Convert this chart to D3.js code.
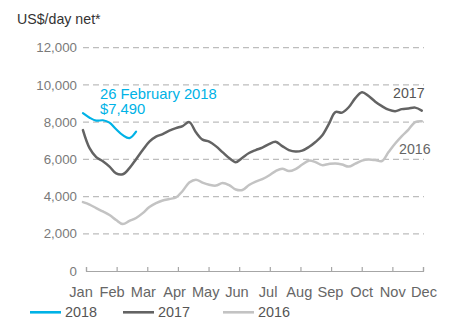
<!DOCTYPE html>
<html>
<head>
<meta charset="utf-8">
<script src="https://cdn.jsdelivr.net/npm/d3@7"></script>
<style>
  body { margin: 0; background: #fff; }
  svg { display: block; font-family: "Liberation Sans", Arial, sans-serif; }
</style>
</head>
<body>
<svg id="chart" width="451" height="321"></svg>
<script>
// tick labels
const months = ["Jan", "Feb", "Mar", "Apr", "May", "Jun", "Jul", "Aug", "Sep", "Oct", "Nov", "Dec"];
const yTicks = [0, 2000, 4000, 6000, 8000, 10000, 12000];

// weekly earnings, US$/day net (week 0 = first week of Jan)
const values2018 = [8480, 8240, 8080, 8100, 7970, 7620, 7300, 7140, 7490];
const values2017 = [7570, 6600, 6120, 5900, 5610, 5240, 5200, 5530, 6010, 6500,
  6950, 7220, 7360, 7540, 7680, 7790, 8000, 7460, 7060, 6950,
  6710, 6390, 6070, 5850, 6090, 6340, 6500, 6630, 6820, 6940,
  6710, 6500, 6420, 6470, 6660, 6930, 7280, 7890, 8540, 8510,
  8800, 9290, 9610, 9400, 9100, 8860, 8670, 8590, 8700, 8730,
  8780, 8620];
const values2016 = [3700, 3570, 3380, 3200, 3010, 2740, 2520, 2690, 2850, 3110,
  3440, 3650, 3790, 3870, 3950, 4300, 4750, 4910, 4750, 4640,
  4590, 4730, 4620, 4380, 4350, 4620, 4800, 4940, 5130, 5370,
  5500, 5370, 5480, 5720, 5930, 5850, 5690, 5750, 5780, 5720,
  5610, 5770, 5930, 5990, 5960, 5910, 6390, 6850, 7250, 7600,
  8000, 8050];

const series = [
  { name: "2016", values: values2016, color: "#c3c3c3" },
  { name: "2017", values: values2017, color: "#636363" },
  { name: "2018", values: values2018, color: "#00b2e6" }
];

const svg = d3.select("#chart");

// month position scale (tick at each month)
const x = d3.scaleLinear().domain([0, 11]).range([86, 423]);
const labelX = x.copy().range([81, 424]);
// week index -> month position
const weekPos = d3.scaleLinear().domain([0, 51]).range([-0.1, 10.96]);

const y = d3.scaleLinear().domain([0, 12000]).range([271, 47.7]);

// title
svg.append("text")
  .attr("x", 17).attr("y", 24)
  .attr("font-size", 14.2)
  .attr("fill", "#333")
  .text("US$/day net*");

// gridlines
svg.append("g")
  .selectAll("line")
  .data(yTicks.filter(d => d > 0))
  .join("line")
  .attr("x1", 83).attr("x2", 424)
  .attr("y1", d => y(d)).attr("y2", d => y(d))
  .attr("stroke", "#bdbdbd")
  .attr("stroke-width", 1.2)
  .attr("stroke-dasharray", "6,4");

// y labels
svg.append("g")
  .selectAll("text")
  .data(yTicks)
  .join("text")
  .attr("x", 77)
  .attr("y", d => y(d) + 4.6)
  .attr("text-anchor", "end")
  .attr("font-size", 13.3)
  .attr("fill", "#7a7a7a")
  .text(d => d3.format(",")(d));

// x axis
const xAxis = svg.append("g")
  .attr("transform", `translate(0,${y(0)})`)
  .call(d3.axisTop(x).tickValues(d3.range(12)).tickSize(4).tickFormat(""));
xAxis.select(".domain").attr("stroke", "#a6a6a6").attr("stroke-width", 1.2);
xAxis.selectAll(".tick line").attr("stroke", "#a6a6a6").attr("stroke-width", 1.2);

svg.append("g")
  .selectAll("text")
  .data(months)
  .join("text")
  .attr("x", (d, i) => labelX(i))
  .attr("y", 296.5)
  .attr("text-anchor", "middle")
  .attr("font-size", 14.6)
  .attr("fill", "#666")
  .text(d => d);

// lines
const line = d3.line()
  .x((d, i) => x(weekPos(i)))
  .y(d => y(d))
  .curve(d3.curveCatmullRom);

svg.append("g")
  .selectAll("path")
  .data(series)
  .join("path")
  .attr("d", d => line(d.values))
  .attr("fill", "none")
  .attr("stroke", d => d.color)
  .attr("stroke-width", d => d.name === "2018" ? 2.2 : 2.5)
  .attr("stroke-linejoin", "round")
  .attr("stroke-linecap", "round");

// annotations
svg.append("text")
  .attr("x", 100).attr("y", 99.3)
  .attr("font-size", 14.8)
  .attr("fill", "#00b2e6")
  .text("26 February 2018");
svg.append("text")
  .attr("x", 100).attr("y", 114.3)
  .attr("font-size", 14.8)
  .attr("fill", "#00b2e6")
  .text("$7,490");

svg.append("text")
  .attr("x", 393).attr("y", 98)
  .attr("font-size", 14.2)
  .attr("fill", "#555")
  .text("2017");
svg.append("text")
  .attr("x", 399).attr("y", 154)
  .attr("font-size", 14.2)
  .attr("fill", "#666")
  .text("2016");

// legend
const legend = [
  { name: "2018", color: "#00b2e6", x: 30 },
  { name: "2017", color: "#636363", x: 123 },
  { name: "2016", color: "#c3c3c3", x: 223 }
];
const lg = svg.append("g")
  .selectAll("g")
  .data(legend)
  .join("g")
  .attr("transform", d => `translate(${d.x},312.3)`);
lg.append("line")
  .attr("x1", 0).attr("x2", 31)
  .attr("stroke", d => d.color)
  .attr("stroke-width", 2.6);
lg.append("text")
  .attr("x", 35).attr("y", 4.8)
  .attr("font-size", 14.4)
  .attr("fill", "#555")
  .text(d => d.name);
</script>
</body>
</html>
